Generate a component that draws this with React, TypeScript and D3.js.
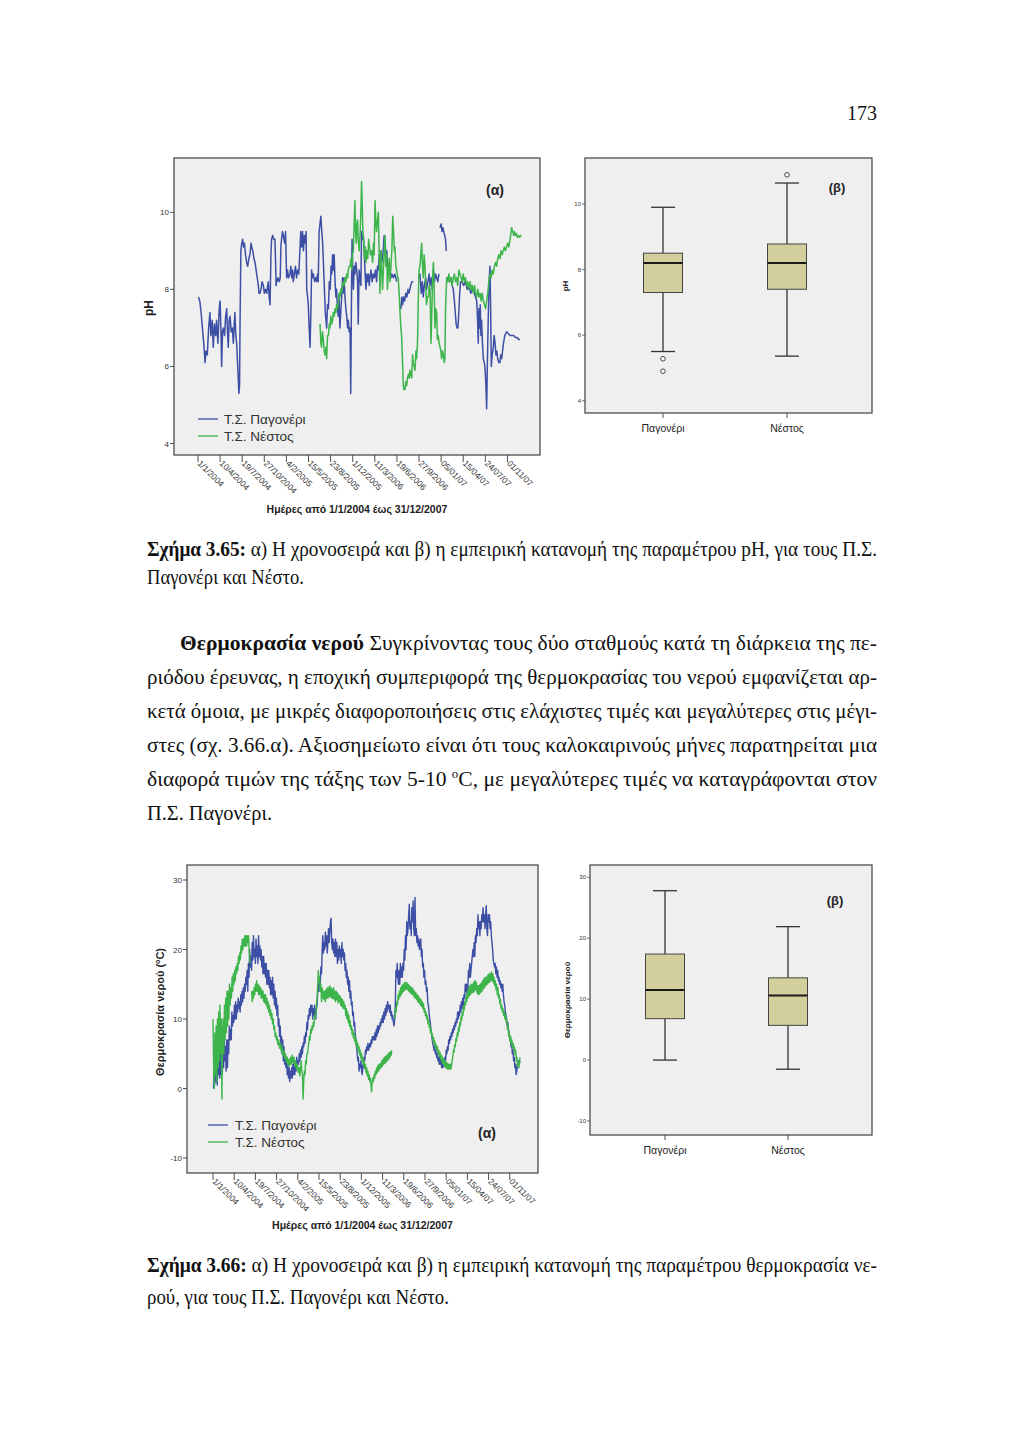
import React from 'react';
import * as d3 from 'd3';

type Pt = [number, number | null];

// ---------- DATA ----------
const tickDays = [0, 100, 200, 300, 400, 500, 600, 700, 800, 900, 1000, 1100, 1200, 1300, 1400];
const tickLabels = ['1/1/2004', '10/4/2004', '19/7/2004', '27/10/2004', '4/2/2005', '15/5/2005', '23/8/2005', '1/12/2005', '11/3/2006', '19/6/2006', '27/9/2006', '05/01/07', '15/04/07', '24/07/07', '01/11/07'];
const phTicks = [4, 6, 8, 10];
const tempTicks = [-10, 0, 10, 20, 30];
const stations = ['Παγονέρι', 'Νέστος'];
const legendLabels = ['Τ.Σ. Παγονέρι', 'Τ.Σ. Νέστος'];

// pH time series, [day since 1/1/2004, pH]
const phPagoneri: Pt[] = [
[2,7.8],[8,7.7],[14,7.4],[20,7.0],[26,6.6],[32,6.1],[36,6.4],[42,6.3],[48,7.0],[54,7.4],[58,6.8],[64,7.2],[69,6.5],[74,7.1],[80,6.8],[84,7.2],[90,6.6],[96,7.5],[100,7.7],[104,6.9],[107,6.0],[111,6.9],[115,7.0],[120,6.8],[125,7.3],[130,7.5],[134,6.8],[137,6.5],[141,7.2],[145,7.3],[150,6.9],[155,7.0],[160,6.6],[164,7.1],[167,7.4],[171,6.8],[175,6.6],[178,6.2],[182,5.7],[185,5.3],[188,5.5],[190,7.0],[194,9.0],[198,9.2],[202,9.3],[206,9.1],[210,9.2],[215,8.9],[220,8.7],[225,8.6],[230,8.8],[235,8.9],[240,9.2],[243,9.1],[248,9.0],[253,8.8],[258,8.7],[263,8.5],[268,8.3],[273,8.1],[276,7.9],[280,7.9],[285,8.0],[290,8.2],[296,8.1],[300,7.9],[305,8.0],[311,7.9],[315,8.1],[318,8.2],[322,7.8],[326,7.6],[330,8.9],[333,9.3],[338,9.4],[343,9.3],[348,9.3],[352,8.5],[353,8.1],[356,8.2],[362,8.3],[368,8.2],[372,8.3],[375,9.1],[378,9.3],[382,9.5],[386,9.4],[392,9.2],[396,9.5],[401,8.3],[405,8.5],[410,8.3],[416,8.4],[420,8.6],[424,8.3],[428,8.5],[431,8.2],[436,8.4],[441,8.6],[446,8.3],[451,8.5],[456,8.4],[461,9.0],[465,9.5],[469,9.1],[473,9.5],[477,9.0],[481,9.4],[485,9.2],[489,9.5],[492,8.0],[496,7.8],[499,7.6],[503,7.0],[507,6.5],[511,7.5],[514,8.5],[518,8.3],[522,8.4],[528,8.2],[533,8.3],[537,8.2],[541,8.4],[544,8.2],[548,9.5],[552,9.7],[556,9.9],[560,9.5],[564,9.2],[568,8.6],[572,8.0],[576,7.4],[582,7.0],[586,7.6],[590,7.5],[594,8.2],[598,8.0],[602,8.6],[605,8.4],[609,8.9],[612,8.5],[616,8.9],[620,8.2],[624,7.8],[627,8.0],[631,7.5],[635,7.3],[638,7.8],[642,7.0],[646,7.4],[650,7.8],[654,8.3],[657,7.9],[661,8.3],[665,7.8],[669,7.5],[673,7.3],[677,7.0],[680,7.2],[684,6.9],[688,7.0],[691,5.3],[694,7.5],[697,9.3],[700,8.5],[703,8.0],[707,8.6],[710,8.4],[714,8.7],[718,8.5],[722,8.2],[725,7.1],[729,8.5],[733,8.3],[737,8.1],[740,9.5],[744,9.3],[748,9.4],[752,9.0],[756,8.4],[760,8.0],[763,8.4],[767,8.2],[771,8.4],[775,8.1],[778,8.3],[783,8.5],[788,8.2],[793,8.4],[798,8.3],[803,8.5],[808,8.2],[812,8.6],[816,8.5],[820,8.9],[824,8.6],[828,9.0],[832,8.7],[838,9.0],[842,9.4],[846,9.3],[850,8.8],[854,9.0],[858,8.6],[861,8.5],[865,8.6],[869,8.5],[873,8.3],[877,8.4],[884,8.3],[890,8.4],[895,8.3],[899,8.2],[906,null],[914,7.6],[918,7.5],[922,7.8],[926,7.6],[930,7.8],[935,7.7],[940,7.9],[945,7.8],[950,8.0],[955,7.9],[962,8.1],[968,8.2],[974,8.2],[985,null],[997,8.3],[1004,8.4],[1010,7.9],[1015,8.2],[1019,7.8],[1024,8.1],[1030,8.3],[1034,8.0],[1040,8.2],[1046,8.4],[1050,8.1],[1056,8.3],[1060,8.0],[1065,8.5],[1070,8.2],[1075,8.4],[1080,8.3],[1085,8.2],[1090,8.4],[1093,null],[1095,9.6],[1100,9.7],[1104,9.5],[1108,9.6],[1112,9.5],[1116,9.4],[1120,9.3],[1123,9.0],[1124,null],[1126,8.3],[1132,8.3],[1138,8.2],[1145,8.3],[1150,8.1],[1155,8.0],[1160,7.7],[1164,7.4],[1168,7.1],[1172,7.0],[1176,7.0],[1180,7.4],[1184,7.9],[1188,8.2],[1195,8.2],[1202,8.1],[1210,8.2],[1218,8.0],[1226,8.1],[1234,7.9],[1242,8.0],[1250,7.9],[1256,7.8],[1261,7.7],[1265,7.2],[1268,6.6],[1271,7.5],[1274,7.0],[1277,7.6],[1280,6.8],[1283,7.2],[1287,6.6],[1291,6.2],[1295,6.1],[1298,6.0],[1302,5.6],[1306,4.9],[1309,6.0],[1313,7.2],[1317,8.2],[1321,8.6],[1324,7.5],[1327,6.0],[1331,6.3],[1336,6.5],[1340,6.8],[1344,6.6],[1348,6.3],[1352,6.4],[1356,6.2],[1361,6.1],[1366,6.1],[1370,6.3],[1374,6.2],[1378,6.4],[1382,6.6],[1388,6.8],[1396,6.9],[1404,6.85],[1412,6.8],[1420,6.8],[1428,6.8],[1436,6.75],[1444,6.75],[1450,6.7],[1457,6.7]
];

const phNestos: Pt[] = [
[552,7.1],[556,6.6],[559,6.5],[563,6.9],[567,6.7],[571,6.4],[575,6.3],[579,6.5],[582,6.2],[586,6.8],[590,6.8],[594,7.1],[597,7.0],[601,7.3],[605,7.1],[609,7.2],[612,7.4],[616,7.3],[620,7.5],[624,7.4],[627,7.6],[631,7.5],[635,7.7],[638,7.9],[642,7.8],[646,8.0],[650,7.9],[654,8.1],[657,8.2],[661,8.1],[665,8.3],[669,8.2],[673,8.4],[677,8.3],[680,8.5],[684,8.6],[688,8.6],[692,8.8],[696,8.5],[699,8.9],[703,9.0],[706,9.6],[710,10.3],[713,9.5],[716,9.2],[719,9.7],[722,9.8],[725,9.3],[729,9.0],[733,9.4],[737,10.0],[740,10.8],[743,10.2],[746,9.5],[750,9.2],[753,8.8],[757,9.1],[760,8.7],[764,9.0],[768,8.8],[772,9.3],[776,9.1],[780,8.9],[785,9.0],[790,8.7],[794,9.2],[797,8.9],[801,10.3],[805,9.7],[808,9.5],[812,9.8],[816,10.0],[819,9.1],[823,7.9],[826,8.5],[829,9.0],[832,8.4],[835,8.0],[838,8.4],[842,8.9],[846,9.4],[850,8.6],[854,8.9],[857,8.0],[861,8.4],[865,8.8],[869,8.2],[873,8.6],[877,9.0],[881,9.9],[884,9.6],[888,9.0],[891,9.1],[895,8.6],[899,8.5],[903,8.3],[906,8.3],[910,7.9],[914,7.4],[918,7.0],[921,6.8],[925,6.2],[929,5.5],[932,5.4],[936,5.4],[940,5.6],[944,5.5],[948,5.7],[952,5.8],[956,5.7],[959,5.9],[963,5.8],[967,5.7],[971,6.3],[974,6.1],[978,6.0],[982,5.9],[986,6.4],[989,6.2],[993,6.6],[997,7.8],[1000,8.5],[1004,8.6],[1008,8.9],[1012,9.2],[1015,8.7],[1019,8.3],[1023,8.9],[1027,8.6],[1031,8.0],[1034,7.6],[1038,7.8],[1042,7.8],[1046,8.1],[1050,8.0],[1054,6.6],[1057,7.2],[1061,8.2],[1065,8.7],[1068,8.2],[1072,7.0],[1076,7.5],[1080,7.4],[1083,6.7],[1087,6.8],[1091,6.6],[1095,6.5],[1099,6.4],[1102,6.2],[1106,6.4],[1110,6.3],[1114,6.1],[1117,6.2],[1120,7.5],[1125,8.3],[1130,8.2],[1135,8.4],[1140,8.2],[1145,8.3],[1150,8.1],[1155,8.3],[1160,8.4],[1165,8.2],[1170,8.3],[1175,8.1],[1180,8.5],[1185,8.4],[1190,8.3],[1195,8.2],[1200,8.4],[1205,8.2],[1210,8.3],[1215,8.1],[1220,8.2],[1225,8.0],[1231,8.2],[1236,8.0],[1241,8.1],[1246,7.9],[1251,8.1],[1256,7.9],[1261,7.8],[1266,8.0],[1271,7.8],[1276,7.9],[1281,7.7],[1286,7.9],[1291,7.7],[1296,7.6],[1301,7.5],[1306,7.7],[1311,7.9],[1316,8.2],[1321,8.4],[1326,8.3],[1331,8.5],[1336,8.4],[1341,8.6],[1346,8.7],[1351,8.6],[1356,8.8],[1361,8.9],[1366,8.8],[1371,9.0],[1376,8.9],[1381,9.0],[1386,9.1],[1391,9.0],[1396,9.1],[1401,9.2],[1406,9.1],[1412,9.3],[1419,9.6],[1424,9.5],[1428,9.4],[1432,9.5],[1436,9.4],[1440,9.45],[1445,9.35],[1450,9.4],[1455,9.35],[1460,9.4],[1464,9.4]
];

// Water temperature time series, [day since 1/1/2004, °C]
const tempPagoneri: Pt[] = [
[2,0],[5,3],[8,0.5],[11,5],[14,1],[17,4],[20,0.5],[23,5],[26,2],[29,6],[32,1.5],[35,5],[38,2],[41,6],[44,2],[47,7],[50,3],[53,8],[56,4],[59,6],[62,2.5],[65,7],[68,3],[71,7],[74,5],[77,9],[80,7],[83,8.5],[86,7],[89,11],[92,9],[95,10.5],[98,9.5],[101,12],[104,10],[107,12.5],[110,10],[113,12],[116,11],
[119,13],[122,11.5],[125,12.5],[128,11],[131,13.5],[134,12],[137,14],[140,12.5],[143,14.5],[146,13],[149,15],[152,14],[155,16],[158,15],[161,17],[164,14],[167,18],[170,16],[173,20],[176,17.5],[179,19],[182,17],[185,21],[188,18.5],[191,22],[194,19],[197,20],[200,18],[203,21.5],[206,19],[209,20.5],[212,18],[215,22],[218,19],[221,20.5],[224,18.5],[227,20],[230,17.5],[233,19],[236,16.5],[239,19],[242,16.5],[245,18],[248,16],[251,18],[254,15],[257,17],[260,15],[263,17],[266,14.5],[269,16],[272,13.5],[275,15.5],[278,13.5],[281,16],[284,13],[287,15],[290,12],[293,14],[296,11.5],[299,13],[302,10.5],[305,12],[308,9],[311,10],[314,7.5],[317,9],[320,6],[323,7.5],[326,5],[329,7],[332,4],[335,6],[338,3.5],[341,5],[344,3],[347,4.5],[350,2],[353,3.5],[356,1.5],[359,3],[362,1],[365,2.5],[368,1.5],[371,3],[374,1.5],[377,3.5],[380,2],[383,4],[386,2],[389,3.5],[392,2.5],[395,4.5],[398,3],[401,4],[404,3.5],[407,5],[410,4],[413,5.5],[416,4.5],[419,6],[422,5],[425,6.5],[428,6],[431,7.5],[434,6.5],[437,8],[440,7.5],[443,9.5],[446,8.5],[449,10.5],[452,10],[455,11.5],[458,10.5],[461,12],[464,11],[467,12],[470,10],[473,11.5],[476,10.5],[479,12],[482,11],[485,10],[488,11.5],[491,12],[494,14],[497,15],[500,14],[503,16],[506,15],[509,17.5],[512,16.5],[515,20],[518,22],[521,19.5],[524,21],[527,20],[530,22.5],[533,20.5],[536,22],[539,19.5],[542,21],[545,23],[548,21],[551,22.5],[554,24],[557,24.5],[560,21],[563,20],[566,21.5],[569,19.5],[572,21],[575,19],[578,21.5],[581,19],[584,21],[587,18],[590,20],[593,18.5],[596,20.5],[599,19],[602,20],[605,18],[608,21],[611,19],[614,20],[617,18.5],[620,19.5],[623,17],[626,18],[629,16],[632,17],[635,15],[638,16],[641,14],[644,15.5],[647,13],[650,14],[653,12],[656,12.5],[659,10.5],[662,11],[665,9],[668,9.5],[671,8],[674,7],[677,6],[680,5],[683,4],[686,4.5],[689,2.5],[692,3.5],[695,3],[698,4],[701,2.5],[704,2],[707,3.5],[710,3],[713,4.5],[716,4],[719,5.5],[722,5],[725,6],[728,5.5],[731,6.5],[734,5.5],[737,6],[740,6.5],[743,6],[746,7],[749,6.5],[752,7.5],[755,7],[758,7.5],[761,7],[764,8],[767,7],[770,8.5],[773,7.5],[776,9],[779,8],[782,9],[785,8.5],[788,9.5],[791,9],[794,10],[797,9.5],[800,10.5],[803,9.5],[806,11],[809,10],[812,11.5],[815,10.5],[818,12],[821,11],[824,12.5],[827,11.5],[830,12],[833,11],[836,12],[839,10.5],[842,11],[845,10],[848,10.5],[851,9.5],[854,9],[857,10],[860,12],[863,17],[866,16],[869,18],[872,16],[875,15],[878,17],[881,15],[884,18],[887,16],[890,17.5],[893,16],[896,18],[899,17],[902,20],[905,18.5],[908,22],[911,20],[914,24],[917,22],[920,23],[923,25],[926,26.5],[929,23],[932,24],[935,22],[938,26],[941,24],[944,27],[947,23],[950,22],[953,27.5],[956,22],[959,23],[962,21],[965,22],[968,20.5],[971,21.5],[974,20],[977,21],[980,21.5],[983,19],[986,20],[989,17.5],[992,18],[995,16],[998,17],[1001,15],[1004,15.5],[1007,14],[1010,14.5],[1013,12.5],[1016,12],[1019,11],[1022,10],[1025,9.5],[1028,8.5],[1031,8],[1034,7],[1037,6.5],[1040,6],[1043,5.5],[1046,6],[1049,5],[1052,5.5],[1055,4.5],[1058,5],[1061,4],[1064,4.5],[1067,3.5],[1070,4.5],[1073,3.5],[1076,4],[1079,3],[1082,3.5],[1085,3],[1088,4],[1091,3.5],[1094,4.5],[1097,4],[1100,5.5],[1103,5],[1106,6],[1109,5.5],[1112,7],[1115,6.5],[1118,7.5],[1121,7],[1124,8],[1127,7.5],[1130,8.5],[1133,8],[1136,9],[1139,8.5],[1142,9.5],[1145,9],[1148,10],[1151,9.5],[1154,11],[1157,10],[1160,11],[1163,10.5],[1166,12],[1169,11],[1172,12.5],[1175,11.5],[1178,13],[1181,12],[1184,13.5],[1187,13],[1190,15],[1193,14],[1196,15],[1199,13],[1202,14],[1205,17],[1208,16],[1211,18],[1214,16],[1217,17],[1220,18],[1223,19],[1226,20],[1229,19],[1232,21],[1235,19],[1238,22],[1241,21],[1244,23],[1247,22],[1250,25],[1253,23],[1256,24],[1259,22],[1262,24],[1265,23],[1268,25],[1271,24],[1274,26],[1277,24],[1280,25],[1283,23],[1286,25],[1289,26.3],[1292,23],[1295,22],[1298,25],[1301,24],[1304,25],[1307,23],[1310,24],[1313,22],[1316,21],[1319,20],[1322,18.5],[1325,18],[1328,17.5],[1331,18],[1334,16.5],[1337,17.5],[1340,16],[1343,17],[1346,15.5],[1349,16],[1352,15],[1355,15.5],[1358,14.5],[1361,15],[1364,14],[1367,15],[1370,13.5],[1373,12.5],[1376,12],[1379,11],[1382,10.5],[1385,10],[1388,9],[1391,9.5],[1394,8.5],[1397,8],[1400,7],[1403,7.5],[1406,6],[1409,6.5],[1412,5],[1415,5.5],[1418,4],[1421,4.5],[1424,3],[1427,3.5],[1430,2],[1433,2.5],[1436,3.5],[1439,3],[1442,4],[1445,3.5],[1448,4]
];

const tempNestos: Pt[] = [
[0,10],[3,3],[6,0],[9,8],[12,2],[15,9],[18,1],[21,10],[24,3],[27,11],[30,4],[33,12],[36,5],[39,10],[42,-1.5],[45,8],[48,10],[51,5],[54,12],[57,7],[60,13],[63,8],[66,14],[69,9],[72,14],[75,10],[78,15],[81,12],[84,14.5],[87,13],[90,16],[93,14],[96,16.5],[99,15],[102,17],[105,15.5],[108,17.5],[111,16.5],[114,18],[117,17],[120,19],[123,18],[126,19.5],[129,18.5],[132,20.5],[135,19.5],[138,21.5],[141,20],[144,21.5],[147,20.5],[150,22],[153,20.5],[156,22],[159,20.5],[162,22],[165,21],[168,22],[171,19.5],[174,18],[176,null],[182,14],[185,12.5],[188,14],[191,13],[194,14.5],[197,13.5],[200,15],[203,14],[206,15.5],[209,14],[212,15],[215,13.5],[218,14.8],[221,13.5],[224,14.5],[227,13],[230,14.2],[233,13],[236,14],[239,12.5],[242,13.5],[245,12.3],[248,13.5],[251,12],[254,13],[257,11.5],[260,12.5],[263,11],[266,12],[269,10.5],[272,11.3],[275,10],[278,10.8],[281,9.3],[284,10],[287,8.5],[290,9],[293,7.5],[296,8],[299,7],[302,7.5],[306,6.3],[310,7],[314,5.8],[318,6.5],[322,5.3],[326,6],[330,4.8],[334,5.5],[338,4.3],[342,5],[346,3.8],[350,4.5],[354,3.3],[358,4.2],[362,3.3],[366,4.5],[370,3.5],[374,4.8],[378,3.8],[382,4.5],[386,3.2],[390,4],[394,2.8],[398,3.5],[402,2.3],[406,3],[410,1.8],[413,3],[416,4],[419,2.5],[422,2],[425,-1.5],[428,1],[431,2.5],[434,2],[437,4],[440,3.5],[443,5],[446,5],[449,6],[452,6.5],[455,7.5],[458,7],[461,8.5],[464,8],[467,9],[470,8.5],[473,9.5],[476,9],[479,10.5],[482,10],[485,11],[488,12],[491,13],[494,15],[497,17],[500,15.5],[503,16],[506,14],[509,15],[512,12.5],[515,14.5],[518,13],[521,14],[524,12.8],[527,14],[530,12.5],[533,14.2],[536,13],[539,14.5],[542,13],[545,14.5],[548,13.2],[551,14.8],[554,13.2],[557,14.5],[560,13],[563,14.3],[566,13],[569,14.5],[572,12.8],[575,14],[578,12.5],[581,14],[584,12.8],[587,13.8],[590,12.3],[593,13.5],[596,12.5],[599,13.3],[602,12],[605,13],[608,11.8],[611,12.8],[614,11.5],[617,12.5],[620,11.5],[623,12],[626,10.5],[629,11.5],[632,10],[635,11],[638,9.5],[641,10.5],[644,9],[647,9.8],[650,8.5],[653,9],[656,7.8],[659,8.5],[662,7.3],[665,8],[668,6.8],[671,7.5],[674,6.3],[677,7],[680,5.8],[683,6.5],[686,5.3],[689,6],[692,4.8],[695,5.5],[698,4.3],[701,5],[704,3.8],[707,4.5],[710,3.3],[713,4],[716,2.8],[719,3.5],[722,2.3],[725,3],[728,1.8],[731,2.5],[734,1.3],[737,2],[740,1],[743,1.5],[746,0.2],[748,-0.5],[751,0.8],[754,1.5],[757,1],[760,2],[763,1.5],[766,2.5],[769,2],[772,3],[775,2.3],[778,3.3],[781,2.5],[784,3.5],[787,2.8],[790,3.6],[793,3],[796,4],[799,3.2],[802,4.2],[805,3.5],[808,4.5],[811,3.6],[814,4.6],[817,3.8],[820,4.8],[823,4],[826,5],[829,4.2],[832,5.2],[835,4.5],[838,5.3],[841,4.8],[843,5.5],[846,null],[858,10],[861,11.5],[864,11],[867,12.5],[870,12],[873,13.5],[876,12.8],[879,14],[882,13.2],[885,14.5],[888,13.5],[891,14.8],[894,13.8],[897,15],[900,14],[903,15.2],[906,14.2],[909,15.3],[912,14.3],[915,15.2],[918,14.2],[921,15],[924,14],[927,14.8],[930,13.8],[933,14.6],[936,13.6],[939,14.5],[942,13.5],[945,14.3],[948,13.2],[951,14],[954,13],[957,13.8],[960,12.8],[963,13.5],[966,12.5],[969,13.3],[972,12.3],[975,13],[978,12],[981,12.8],[984,11.8],[987,12.5],[990,11.5],[993,12.2],[996,11],[999,11.5],[1002,10.5],[1005,11],[1008,10],[1011,10.5],[1014,9.3],[1017,9.8],[1020,8.8],[1023,9.2],[1026,8],[1029,8.5],[1032,7.5],[1035,7.8],[1038,6.8],[1041,7.3],[1044,6.3],[1047,6.8],[1050,5.8],[1053,6.3],[1056,5.5],[1059,6],[1062,5],[1065,5.5],[1068,4.6],[1071,5.2],[1074,4.2],[1077,4.8],[1080,3.8],[1083,4.5],[1086,3.5],[1089,4.2],[1092,3.2],[1095,4],[1098,3],[1101,3.8],[1104,2.8],[1107,3.6],[1110,2.8],[1113,3.5],[1116,2.8],[1119,3.5],[1122,2.8],[1125,3.2],[1128,4],[1131,4.5],[1134,5.5],[1137,5.2],[1140,6.3],[1143,6],[1146,7.2],[1149,6.8],[1152,8],[1155,7.5],[1158,8.8],[1161,8.2],[1164,9.5],[1167,9],[1170,10.3],[1173,9.8],[1176,11],[1179,10.5],[1182,11.8],[1185,11.3],[1188,12.5],[1191,12],[1194,13.3],[1197,12.5],[1200,14],[1203,13],[1206,14.5],[1209,13.3],[1212,14.8],[1215,13.5],[1218,15],[1221,13.8],[1224,15],[1227,13.8],[1230,15.3],[1233,14],[1236,15.5],[1239,14.2],[1242,15.3],[1245,13.8],[1248,14.8],[1251,13.5],[1254,14.8],[1257,13.6],[1260,15],[1263,13.8],[1266,15.2],[1269,14],[1272,15.5],[1275,14.3],[1278,15.8],[1281,14.5],[1284,16],[1287,14.8],[1290,16],[1293,15],[1296,16.3],[1299,15.2],[1302,16.5],[1305,15.3],[1308,16.5],[1311,15.5],[1314,16.8],[1317,15.5],[1320,16.5],[1323,15.2],[1326,16],[1329,14.8],[1332,15.5],[1335,14.2],[1338,15],[1341,13.5],[1344,14.5],[1347,13],[1350,13.5],[1353,12.2],[1356,12.8],[1359,11.5],[1362,12],[1365,11],[1368,11.5],[1371,10.5],[1374,11],[1377,10],[1380,10.5],[1383,9.5],[1386,10],[1389,8.5],[1392,9],[1395,7.5],[1398,8],[1401,6.8],[1404,7.5],[1407,6.3],[1410,7],[1413,6],[1416,6.5],[1419,5.5],[1422,6],[1425,4.8],[1428,5.5],[1431,4],[1434,4.5],[1437,3.2],[1440,3.8],[1443,3],[1446,4],[1448,4.5]
];

// Box plot statistics: [lower whisker, Q1, median, Q3, upper whisker]
const phBoxStats = [[5.5, 7.3, 8.2, 8.5, 9.9], [5.36, 7.4, 8.2, 8.78, 10.64]];
const phOutliers = [[5.28, 4.9], [10.89]];
const tempBoxStats = [[0, 6.8, 11.5, 17.4, 27.8], [-1.5, 5.7, 10.6, 13.5, 21.9]];
const tempOutliers: number[][] = [[], []];

// ---------- STYLE ----------
const BLUE = '#3d4fa5';
const GREEN = '#3db54b';
const BG = '#efefef';
const FRAME = '#4d4d4d';
const BOXFILL = '#d3cf9c';
const SANS = '"Liberation Sans", Arial, sans-serif';
const SERIF = '"Liberation Serif", "Times New Roman", serif';

type Frame = { x0: number; y0: number; x1: number; y1: number };

function TimeSeries(p: {
  frame: Frame; xRange: [number, number]; yDomain: [number, number]; yRange: [number, number];
  yTicks: number[]; blue: Pt[]; green: Pt[]; yTitle: React.ReactNode; yTitlePos: [number, number]; yTitleSize: number;
  xTitleY: number; legend: { x: number; y: number; tx: number }; tag: [number, number]; lw: number;
}) {
  const f = p.frame;
  const x = d3.scaleLinear().domain([0, 1460]).range(p.xRange);
  const y = d3.scaleLinear().domain(p.yDomain).range(p.yRange);
  const line = d3.line<Pt>().defined(d => d[1] !== null).x(d => x(d[0])).y(d => y(d[1] as number));
  const clipId = 'clip' + f.y0;
  return (
    <g>
      <defs>
        <clipPath id={clipId}><rect x={f.x0} y={f.y0} width={f.x1 - f.x0} height={f.y1 - f.y0} /></clipPath>
      </defs>
      <rect x={f.x0} y={f.y0} width={f.x1 - f.x0} height={f.y1 - f.y0} fill={BG} />
      <g clipPath={`url(#${clipId})`}>
        <path d={line(p.blue) || ''} fill="none" stroke={BLUE} strokeWidth={p.lw} strokeLinejoin="round" />
        <path d={line(p.green) || ''} fill="none" stroke={GREEN} strokeWidth={p.lw} strokeLinejoin="round" />
      </g>
      <rect x={f.x0} y={f.y0} width={f.x1 - f.x0} height={f.y1 - f.y0} fill="none" stroke={FRAME} strokeWidth={1.3} />
      {p.yTicks.map(t => (
        <g key={t}>
          <line x1={f.x0 - 4} x2={f.x0} y1={y(t)} y2={y(t)} stroke={FRAME} strokeWidth={1} />
          <text x={f.x0 - 5} y={y(t) + 3} fontSize={8} textAnchor="end" fontFamily={SANS} fill="#333">{t}</text>
        </g>
      ))}
      {tickDays.map((d, i) => (
        <g key={d}>
          <line x1={x(d)} x2={x(d)} y1={f.y1} y2={f.y1 + 7} stroke={FRAME} strokeWidth={1} />
          <text transform={`translate(${x(d) - 1},${f.y1 + 9}) rotate(45)`} fontSize={8.5} fontFamily={SANS} fill="#333">{tickLabels[i]}</text>
        </g>
      ))}
      <text x={(f.x0 + f.x1) / 2} y={p.xTitleY} textAnchor="middle" fontSize={10.5} fontWeight="bold" fontFamily={SANS} fill="#222">Ημέρες από 1/1/2004 έως 31/12/2007</text>
      <text transform={`translate(${p.yTitlePos[0]},${p.yTitlePos[1]}) rotate(-90)`} textAnchor="middle" fontSize={p.yTitleSize} fontWeight="bold" fontFamily={SANS} fill="#222">{p.yTitle}</text>
      {[BLUE, GREEN].map((c, i) => (
        <g key={c}>
          <line x1={p.legend.x} x2={p.legend.x + 20} y1={p.legend.y + i * 17} y2={p.legend.y + i * 17} stroke={c} strokeWidth={1.3} />
          <text x={p.legend.tx} y={p.legend.y + i * 17 + 5} fontSize={13.5} fontFamily={SANS} fill="#333">{legendLabels[i]}</text>
        </g>
      ))}
      <text x={p.tag[0]} y={p.tag[1]} textAnchor="middle" fontSize={14} fontWeight="bold" fontFamily={SANS} fill="#222">(α)</text>
    </g>
  );
}

function BoxPlot(p: {
  frame: Frame; yDomain: [number, number]; yRange: [number, number]; yTicks: number[]; centers: [number, number];
  stats: number[][]; outliers: number[][]; yTitle: string; yTitlePos: [number, number]; labelY: number; tag: [number, number];
}) {
  const f = p.frame;
  const y = d3.scaleLinear().domain(p.yDomain).range(p.yRange);
  const xs = d3.scalePoint<string>().domain(stations).range(p.centers);
  const bw = 39;
  const cw = 24;
  return (
    <g>
      <rect x={f.x0} y={f.y0} width={f.x1 - f.x0} height={f.y1 - f.y0} fill={BG} stroke={FRAME} strokeWidth={1.3} />
      {p.yTicks.map(t => (
        <g key={t}>
          <line x1={f.x0 - 3} x2={f.x0} y1={y(t)} y2={y(t)} stroke={FRAME} strokeWidth={0.8} />
          <text x={f.x0 - 4} y={y(t) + 2} fontSize={6} textAnchor="end" fontFamily={SANS} fill="#333">{t}</text>
        </g>
      ))}
      {stations.map((s, i) => {
        const cx = xs(s) as number;
        const [lo, q1, md, q3, hi] = p.stats[i];
        return (
          <g key={s}>
            <line x1={cx} x2={cx} y1={y(hi)} y2={y(q3)} stroke="#333" strokeWidth={1.3} />
            <line x1={cx} x2={cx} y1={y(q1)} y2={y(lo)} stroke="#333" strokeWidth={1.3} />
            <line x1={cx - cw / 2} x2={cx + cw / 2} y1={y(hi)} y2={y(hi)} stroke="#333" strokeWidth={1.3} />
            <line x1={cx - cw / 2} x2={cx + cw / 2} y1={y(lo)} y2={y(lo)} stroke="#333" strokeWidth={1.3} />
            <rect x={cx - bw / 2} y={y(q3)} width={bw} height={y(q1) - y(q3)} fill={BOXFILL} stroke="#444" strokeWidth={1} />
            <line x1={cx - bw / 2} x2={cx + bw / 2} y1={y(md)} y2={y(md)} stroke="#1a1a1a" strokeWidth={2.2} />
            {p.outliers[i].map((o, k) => (
              <circle key={k} cx={cx} cy={y(o)} r={2.3} fill="#fff" stroke="#333" strokeWidth={0.9} />
            ))}
            <line x1={cx} x2={cx} y1={f.y1} y2={f.y1 + 5} stroke={FRAME} strokeWidth={1} />
            <text x={cx} y={p.labelY} textAnchor="middle" fontSize={10.5} fontFamily={SANS} fill="#222">{s}</text>
          </g>
        );
      })}
      <text transform={`translate(${p.yTitlePos[0]},${p.yTitlePos[1]}) rotate(-90)`} textAnchor="middle" fontSize={8} fontWeight="bold" fontFamily={SANS} fill="#222">{p.yTitle}</text>
      <text x={p.tag[0]} y={p.tag[1]} textAnchor="middle" fontSize={13} fontWeight="bold" fontFamily={SANS} fill="#222">(β)</text>
    </g>
  );
}

export default function App() {
  return (
    <svg width={1024} height={1448} style={{ position: 'absolute', left: 0, top: 0, background: '#fff' }}>
      <rect x={0} y={0} width={1024} height={1448} fill="#fff" />
      <text x={877} y={120} textAnchor="end" fontSize={20} fontFamily={SERIF} fill="#111">173</text>

      <TimeSeries
        frame={{ x0: 174, y0: 158, x1: 540, y1: 455 }}
        xRange={[198, 520.7]} yDomain={[4, 10]} yRange={[443.5, 212.3]} yTicks={phTicks}
        blue={phPagoneri} green={phNestos} lw={1.5}
        yTitle="pH" yTitlePos={[153, 308]} yTitleSize={12}
        xTitleY={513} legend={{ x: 198, y: 419, tx: 224 }} tag={[495, 195]}
      />
      <BoxPlot
        frame={{ x0: 585, y0: 158, x1: 872, y1: 413 }}
        yDomain={[4, 10]} yRange={[400.7, 204]} yTicks={phTicks} centers={[663, 787]}
        stats={phBoxStats} outliers={phOutliers}
        yTitle="pH" yTitlePos={[568, 286]} labelY={432} tag={[837, 192]}
      />

      <text x={147} y={556} fontSize={20} fontFamily={SERIF} fill="#111" textLength={730} lengthAdjust="spacingAndGlyphs">
        <tspan fontWeight="bold">Σχήμα 3.65:</tspan> α) Η χρονοσειρά και β) η εμπειρική κατανομή της παραμέτρου pH, για τους Π.Σ.
      </text>
      <text x={147} y={584} fontSize={20} fontFamily={SERIF} fill="#111" textLength={157} lengthAdjust="spacingAndGlyphs">Παγονέρι και Νέστο.</text>

      <text x={180} y={650} fontSize={20} fontFamily={SERIF} fill="#111" textLength={697} lengthAdjust="spacingAndGlyphs">
        <tspan fontWeight="bold">Θερμοκρασία νερού</tspan> Συγκρίνοντας τους δύο σταθμούς κατά τη διάρκεια της πε-
      </text>
      <text x={147} y={684} fontSize={20} fontFamily={SERIF} fill="#111" textLength={730} lengthAdjust="spacingAndGlyphs">ριόδου έρευνας, η εποχική συμπεριφορά της θερμοκρασίας του νερού εμφανίζεται αρ-</text>
      <text x={147} y={718} fontSize={20} fontFamily={SERIF} fill="#111" textLength={730} lengthAdjust="spacingAndGlyphs">κετά όμοια, με μικρές διαφοροποιήσεις στις ελάχιστες τιμές και μεγαλύτερες στις μέγι-</text>
      <text x={147} y={752} fontSize={20} fontFamily={SERIF} fill="#111" textLength={730} lengthAdjust="spacingAndGlyphs">στες (σχ. 3.66.α). Αξιοσημείωτο είναι ότι τους καλοκαιρινούς μήνες παρατηρείται μια</text>
      <text x={147} y={786} fontSize={20} fontFamily={SERIF} fill="#111" textLength={730} lengthAdjust="spacingAndGlyphs">
        διαφορά τιμών της τάξης των 5-10 <tspan dy={-8} fontSize={12}>o</tspan><tspan dy={8}>C, με μεγαλύτερες τιμές να καταγράφονται στον</tspan>
      </text>
      <text x={147} y={820} fontSize={20} fontFamily={SERIF} fill="#111" textLength={125} lengthAdjust="spacingAndGlyphs">Π.Σ. Παγονέρι.</text>

      <TimeSeries
        frame={{ x0: 187, y0: 865, x1: 538, y1: 1173 }}
        xRange={[213, 522.5]} yDomain={[-10, 30]} yRange={[1158, 880]} yTicks={tempTicks}
        blue={tempPagoneri} green={tempNestos} lw={1.4}
        yTitle={<>Θερμοκρασία νερού (<tspan dy={-4} fontSize={7}>o</tspan><tspan dy={4}>C)</tspan></>}
        yTitlePos={[164, 1012]} yTitleSize={11}
        xTitleY={1229} legend={{ x: 208, y: 1125, tx: 235 }} tag={[487, 1138]}
      />
      <BoxPlot
        frame={{ x0: 590, y0: 865, x1: 872, y1: 1135 }}
        yDomain={[-10, 30]} yRange={[1121, 877.3]} yTicks={tempTicks} centers={[665, 788]}
        stats={tempBoxStats} outliers={tempOutliers}
        yTitle="Θερμοκρασία νερού" yTitlePos={[570, 1000]} labelY={1154} tag={[835, 905]}
      />

      <text x={147} y={1272} fontSize={20} fontFamily={SERIF} fill="#111" textLength={730} lengthAdjust="spacingAndGlyphs">
        <tspan fontWeight="bold">Σχήμα 3.66:</tspan> α) Η χρονοσειρά και β) η εμπειρική κατανομή της παραμέτρου θερμοκρασία νε-
      </text>
      <text x={147} y={1304} fontSize={20} fontFamily={SERIF} fill="#111" textLength={302} lengthAdjust="spacingAndGlyphs">ρού, για τους Π.Σ. Παγονέρι και Νέστο.</text>
    </svg>
  );
}
